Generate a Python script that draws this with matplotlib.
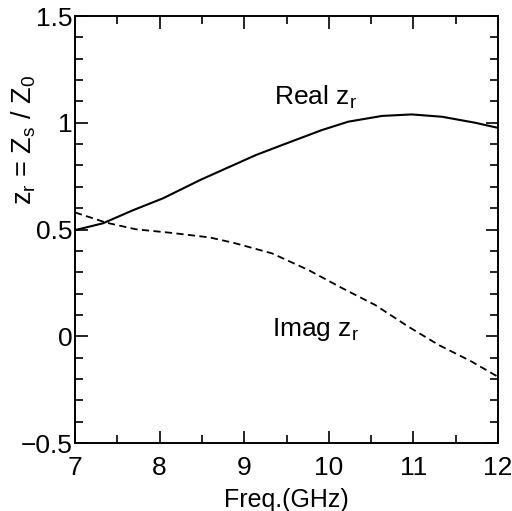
import matplotlib
matplotlib.use("Agg")
import matplotlib.pyplot as plt
from matplotlib.ticker import MultipleLocator

freq_real = [7.0, 7.33, 7.69, 8.04, 8.48, 8.79, 9.14, 9.45, 9.92, 10.23, 10.63, 10.98, 11.34, 11.73, 12.0]
real_zr = [0.497, 0.529, 0.591, 0.646, 0.732, 0.787, 0.849, 0.896, 0.966, 1.005, 1.032, 1.039, 1.028, 1.0, 0.976]

freq_imag = [7.0, 7.37, 7.72, 8.12, 8.59, 8.88, 9.33, 9.76, 10.16, 10.55, 10.94, 11.3, 11.69, 12.0]
imag_zr = [0.58, 0.532, 0.501, 0.485, 0.463, 0.437, 0.388, 0.31, 0.225, 0.146, 0.045, -0.041, -0.119, -0.19]

plt.rcParams['font.family'] = ['Liberation Sans', 'DejaVu Sans']
fig = plt.figure(figsize=(5.12, 5.11), dpi=100)
ax = fig.add_axes([75/512, 68/511, 423/512, 427/511])

ax.plot(freq_real, real_zr, color='black', lw=1.5, solid_joinstyle='round')
ax.plot(freq_imag, imag_zr, color='black', lw=1.3, linestyle=(0, (4, 2.4)))

ax.set_xlim(7, 12)
ax.set_ylim(-0.5, 1.5)
ax.xaxis.set_major_locator(MultipleLocator(1))
ax.xaxis.set_minor_locator(MultipleLocator(0.5))
ax.yaxis.set_minor_locator(MultipleLocator(0.1))
ax.set_yticks([-0.5, 0, 0.5, 1, 1.5])
ax.set_yticklabels(['\u22120.5', '0', '0.5', '1', '1.5'])
ax.tick_params(which='both', direction='in', top=True, right=True, width=1.2,
               labelsize=19)
ax.tick_params(axis='x', which='major', pad=9)
ax.tick_params(axis='y', which='major', pad=1.5)
ax.tick_params(which='major', length=9)
ax.tick_params(which='minor', length=6)
for s in ax.spines.values():
    s.set_linewidth(1.4)

ax.set_xlabel('Freq.(GHz)', fontsize=18, labelpad=6)
ax.set_ylabel(r'$\mathregular{z_r}$ = $\mathregular{Z_s}$ / $\mathregular{Z_0}$', fontsize=19.5)
ax.yaxis.set_label_coords(-0.088, 0.71)

ax.text(9.35, 1.083, r'Real $\mathregular{z_r}$', fontsize=19)
ax.text(9.33, 0.0, r'Imag $\mathregular{z_r}$', fontsize=19)

fig.savefig('out.png', dpi=100)
